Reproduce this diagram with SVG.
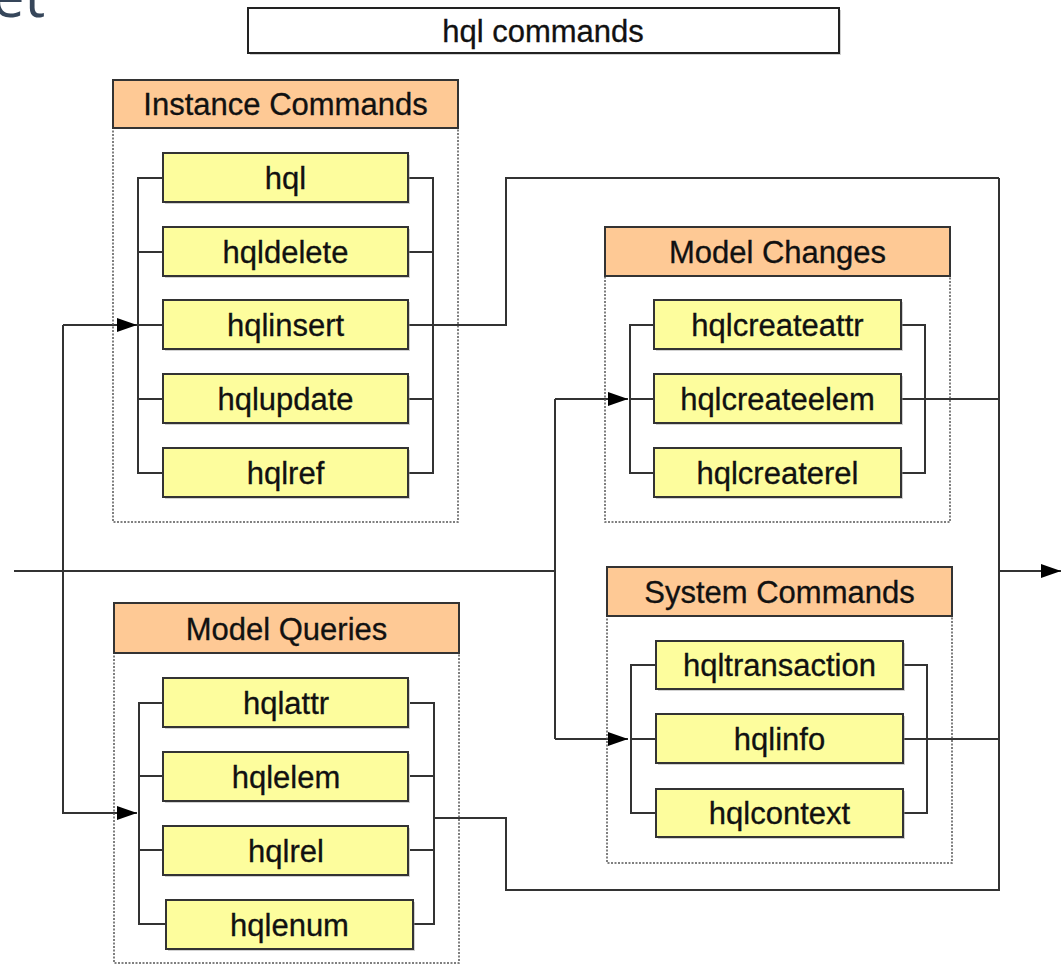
<svg xmlns="http://www.w3.org/2000/svg" width="1061" height="965" viewBox="0 0 1061 965">
<style>
.t{font-family:"Liberation Sans",Arial,sans-serif;font-size:31px;fill:#111;stroke:#111;stroke-width:0.3;text-anchor:middle;dominant-baseline:central}
.hdr{fill:#fec995;stroke:#333;stroke-width:2}
.grp{fill:none;stroke:#555;stroke-width:1.5;stroke-dasharray:2 1.5}
.item{fill:#fdfd9d;stroke:#333;stroke-width:2}
.sh{fill:#999;opacity:0.45}
.c{fill:none;stroke:#333;stroke-width:2}
</style>
<defs>
<marker id="ah" markerUnits="userSpaceOnUse" markerWidth="22" markerHeight="14" refX="20" refY="7" orient="auto" viewBox="0 0 22 14">
<path d="M0,0 L20,7 L0,14 Z" fill="#000"/>
</marker>
</defs>
<rect width="1061" height="965" fill="#fff"/>
<text x="-8" y="17" font-family="'Open Sans',sans-serif" font-size="58" fill="#36465a">et</text>

<g id="title">
<rect x="250" y="10" width="591" height="45" class="sh"/>
<rect x="248" y="8" width="591" height="45" fill="#fff" stroke="#222" stroke-width="2"/>
<text x="543" y="31" class="t">hql commands</text>
</g>

<g id="connectors">
<path class="c" d="M14,571 H555"/>
<path class="c" d="M63,325 V814"/>
<path class="c" d="M63,325 H137" marker-end="url(#ah)"/>
<path class="c" d="M63,813 H137" marker-end="url(#ah)"/>
<path class="c" d="M163,178 H138 V473 H163 M138,252 H163 M138,325 H163 M138,399 H163"/>
<path class="c" d="M408,178 H433 V473 H408 M408,252 H433 M408,399 H433"/>
<path class="c" d="M408,325 H506 V178 H999"/>
<path class="c" d="M999,178 V891"/>
<path class="c" d="M999,571 H1061" marker-end="url(#ah)"/>
<path class="c" d="M555,399 V739"/>
<path class="c" d="M555,399 H628" marker-end="url(#ah)"/>
<path class="c" d="M654,325 H630 V473 H654 M630,399 H654"/>
<path class="c" d="M901,325 H925 V473 H901 M901,399 H999"/>
<path class="c" d="M555,739 H628" marker-end="url(#ah)"/>
<path class="c" d="M656,665 H631 V813 H656 M631,739 H656"/>
<path class="c" d="M903,665 H927 V813 H903 M903,739 H999"/>
<path class="c" d="M163,703 H139 V924 H166 M139,776 H163 M139,850 H163"/>
<path class="c" d="M410,703 H434 V924 H413 M410,776 H434 M410,850 H434"/>
<path class="c" d="M434,818 H506 V890 H999"/>
</g>

<g id="instance-commands">
<rect x="113" y="128" width="345" height="394" class="grp"/>
<rect x="113" y="80" width="345" height="48" class="hdr"/>
<text x="285.5" y="104" class="t">Instance Commands</text>
</g>
<g id="hql"><rect x="165" y="155" width="245" height="49" class="sh"/><rect x="163" y="153" width="245" height="49" class="item"/><text x="285.5" y="178" class="t">hql</text></g>
<g id="hqldelete"><rect x="165" y="229" width="245" height="49" class="sh"/><rect x="163" y="227" width="245" height="49" class="item"/><text x="285.5" y="252" class="t">hqldelete</text></g>
<g id="hqlinsert"><rect x="165" y="302" width="245" height="49" class="sh"/><rect x="163" y="300" width="245" height="49" class="item"/><text x="285.5" y="325" class="t">hqlinsert</text></g>
<g id="hqlupdate"><rect x="165" y="376" width="245" height="49" class="sh"/><rect x="163" y="374" width="245" height="49" class="item"/><text x="285.5" y="399" class="t">hqlupdate</text></g>
<g id="hqlref"><rect x="165" y="450" width="245" height="49" class="sh"/><rect x="163" y="448" width="245" height="49" class="item"/><text x="285.5" y="473" class="t">hqlref</text></g>

<g id="model-changes">
<rect x="605" y="276" width="345" height="246" class="grp"/>
<rect x="605" y="227" width="345" height="49" class="hdr"/>
<text x="777.5" y="252" class="t">Model Changes</text>
</g>
<g id="hqlcreateattr"><rect x="656" y="302" width="247" height="49" class="sh"/><rect x="654" y="300" width="247" height="49" class="item"/><text x="777.5" y="325" class="t">hqlcreateattr</text></g>
<g id="hqlcreateelem"><rect x="656" y="376" width="247" height="49" class="sh"/><rect x="654" y="374" width="247" height="49" class="item"/><text x="777.5" y="399" class="t">hqlcreateelem</text></g>
<g id="hqlcreaterel"><rect x="656" y="450" width="247" height="49" class="sh"/><rect x="654" y="448" width="247" height="49" class="item"/><text x="777.5" y="473" class="t">hqlcreaterel</text></g>

<g id="system-commands">
<rect x="607" y="616" width="345" height="247" class="grp"/>
<rect x="607" y="567" width="345" height="49" class="hdr"/>
<text x="779.5" y="592" class="t">System Commands</text>
</g>
<g id="hqltransaction"><rect x="658" y="643" width="247" height="48" class="sh"/><rect x="656" y="641" width="247" height="48" class="item"/><text x="779.5" y="665" class="t">hqltransaction</text></g>
<g id="hqlinfo"><rect x="658" y="716" width="247" height="49" class="sh"/><rect x="656" y="714" width="247" height="49" class="item"/><text x="779.5" y="739" class="t">hqlinfo</text></g>
<g id="hqlcontext"><rect x="658" y="791" width="247" height="48" class="sh"/><rect x="656" y="789" width="247" height="48" class="item"/><text x="779.5" y="813" class="t">hqlcontext</text></g>

<g id="model-queries">
<rect x="114" y="653" width="345" height="310" class="grp"/>
<rect x="114" y="603" width="345" height="50" class="hdr"/>
<text x="286.5" y="629" class="t">Model Queries</text>
</g>
<g id="hqlattr"><rect x="165" y="680" width="245" height="49" class="sh"/><rect x="163" y="678" width="245" height="49" class="item"/><text x="286" y="703" class="t">hqlattr</text></g>
<g id="hqlelem"><rect x="165" y="754" width="245" height="49" class="sh"/><rect x="163" y="752" width="245" height="49" class="item"/><text x="286" y="777" class="t">hqlelem</text></g>
<g id="hqlrel"><rect x="165" y="828" width="245" height="49" class="sh"/><rect x="163" y="826" width="245" height="49" class="item"/><text x="286" y="851" class="t">hqlrel</text></g>
<g id="hqlenum"><rect x="168" y="902" width="247" height="49" class="sh"/><rect x="166" y="900" width="247" height="49" class="item"/><text x="289.5" y="925" class="t">hqlenum</text></g>
</svg>
